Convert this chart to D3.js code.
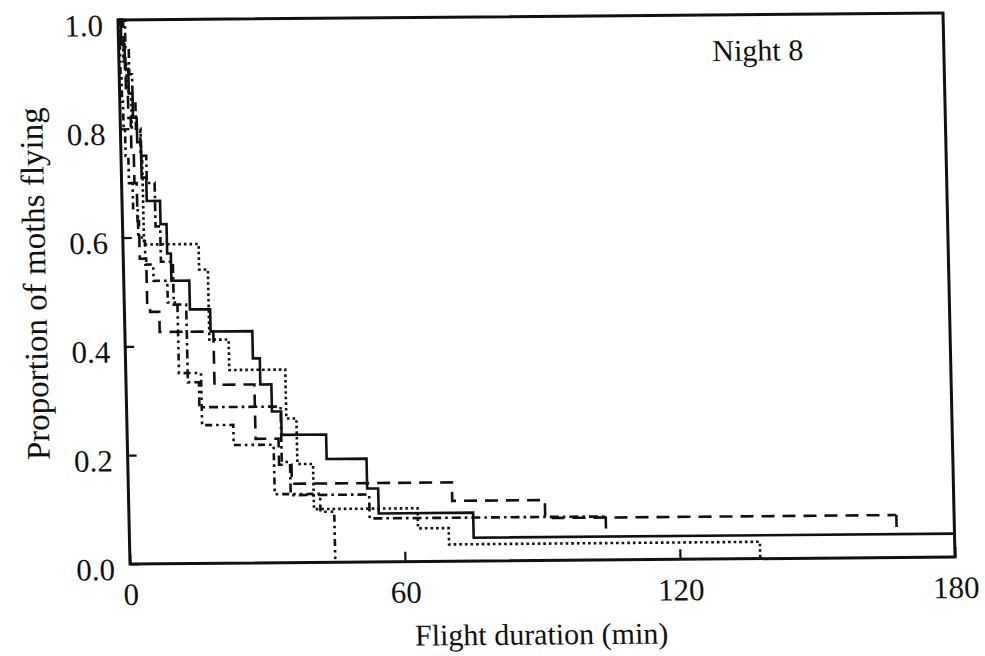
<!DOCTYPE html>
<html>
<head>
<meta charset="utf-8">
<script src="https://cdn.jsdelivr.net/npm/d3@7"></script>
<style>
  html, body { margin: 0; padding: 0; background: #fff; }
  svg { display: block; }
  text { font-family: "Liberation Serif", "Times New Roman", serif; fill: #111; }
</style>
</head>
<body>
<svg id="chart" width="985" height="656"></svg>
<script>
// Axis ticks
const xTicks = [0, 60, 120, 180];
const yTicks = [0, 0.2, 0.4, 0.6, 0.8, 1.0];

// Kaplan-Meier style flight curves: event times (min) and proportion still flying
const solidTimes = [0, 0.6, 1.3, 2.0, 2.8, 3.6, 4.4, 5.4, 8.3, 9.6, 10.4, 14.3, 18.7, 27.8, 29.3, 31.7, 33.7, 43.4, 52.1, 54.5, 75.1, 180];
const solidProps = [1, 0.955, 0.91, 0.865, 0.82, 0.775, 0.71, 0.667, 0.624, 0.57, 0.52, 0.467, 0.426, 0.376, 0.328, 0.278, 0.235, 0.19, 0.135, 0.089, 0.043, 0.043];

const dashTimes = [0, 1.1, 1.4, 1.8, 2.3, 2.8, 3.3, 3.6, 5.0, 5.6, 7.6, 19.3, 28.0, 33.0, 35.7, 70.6, 90.8, 167.4];
const dashProps = [1, 0.93, 0.87, 0.82, 0.76, 0.70, 0.63, 0.561, 0.48, 0.463, 0.426, 0.328, 0.228, 0.18, 0.145, 0.111, 0.078, 0.078];

const dotTimes = [0, 0.5, 1.0, 1.6, 2.5, 4.4, 4.6, 16.5, 18.4, 22.6, 34.8, 37.0, 40.4, 63.0, 69.7, 137.5];
const dotProps = [1, 0.96, 0.92, 0.87, 0.80, 0.74, 0.587, 0.54, 0.411, 0.355, 0.265, 0.181, 0.098, 0.061, 0.031, 0];

const dashDotTimes = [0, 1.5, 2.2, 2.8, 3.4, 4.3, 5.5, 7.2, 8.2, 10.8, 13.5, 15.9, 33.6, 35.4, 52.5, 104];
const dashDotProps = [1, 0.95, 0.9, 0.85, 0.80, 0.75, 0.70, 0.62, 0.555, 0.476, 0.333, 0.287, 0.185, 0.124, 0.08, 0.08];

const dashDot2Times = [0, 0.15, 0.3, 0.5, 0.7, 1.0, 1.6, 2.4, 3.4, 4.8, 6.5, 9.5, 11.6, 16.4, 23.2, 31.9, 41.8, 44.8];
const dashDot2Props = [1, 0.95, 0.9, 0.85, 0.8, 0.75, 0.70, 0.65, 0.60, 0.55, 0.52, 0.48, 0.35, 0.254, 0.217, 0.126, 0.093, 0];

const series = [
  { times: solidTimes,    props: solidProps,    dash: null,               censored: false },
  { times: dashTimes,     props: dashProps,     dash: "13,8",             censored: true  },
  { times: dotTimes,      props: dotProps,      dash: "2.6,3",            censored: false },
  { times: dashDotTimes,  props: dashDotProps,  dash: "9,4,2.6,4",        censored: true  },
  { times: dashDot2Times, props: dashDot2Props, dash: "7,4,2.6,4,2.6,4",  censored: false }
];

const svg = d3.select("#chart");

// The printed figure sits slightly askew on the page: a small shear/rotation of the whole plot.
const root = svg.append("g")
  .attr("transform", "matrix(1,-0.00848,0.02206,1,-0.44,1.0)");

const x = d3.scaleLinear().domain([0, 180]).range([118, 943]);
const y = d3.scaleLinear().domain([0, 1]).range([564, 20]);

const ink = "#111";

// Survival steps
const line = d3.line()
  .x(d => x(d[0]))
  .y(d => y(d[1]))
  .curve(d3.curveStepAfter);

const curves = root.append("g").attr("fill", "none").attr("stroke", ink)
  .attr("stroke-width", 2.6).attr("stroke-linejoin", "miter");

series.forEach(s => {
  const pts = s.times.map((t, i) => [t, s.props[i]]);
  curves.append("path")
    .attr("d", line(pts))
    .attr("stroke-dasharray", s.dash);
  if (s.censored) {
    const tEnd = s.times[s.times.length - 1];
    const pEnd = s.props[s.props.length - 1];
    curves.append("line")
      .attr("x1", x(tEnd)).attr("x2", x(tEnd))
      .attr("y1", y(pEnd)).attr("y2", y(pEnd) + 12);
  }
});

// Frame
root.append("rect")
  .attr("x", x(0)).attr("y", y(1))
  .attr("width", x(180) - x(0)).attr("height", y(0) - y(1))
  .attr("fill", "none").attr("stroke", ink).attr("stroke-width", 3);

// Axes with inward ticks
const yAxis = d3.axisLeft(y).tickValues(yTicks).tickFormat(d3.format(".1f"))
  .tickSizeInner(-9).tickSizeOuter(0).tickPadding(15);
const gy = root.append("g").attr("transform", `translate(${x(0)},0)`).call(yAxis);
gy.select(".domain").remove();
gy.selectAll(".tick line").attr("stroke", ink).attr("stroke-width", 2.2);
gy.selectAll(".tick text").attr("font-size", 31).attr("dy", "0.5em")
  .style("font-family", "'Liberation Serif', serif").attr("fill", ink);

const xAxis = d3.axisBottom(x).tickValues(xTicks).tickFormat(d3.format("d"))
  .tickSizeInner(-10).tickSizeOuter(0).tickPadding(19);
const gx = root.append("g").attr("transform", `translate(0,${y(0)})`).call(xAxis);
gx.select(".domain").remove();
gx.selectAll(".tick line").attr("stroke", ink).attr("stroke-width", 2.2);
gx.selectAll(".tick text").attr("font-size", 31)
  .style("font-family", "'Liberation Serif', serif").attr("fill", ink);

// Titles
root.append("text")
  .attr("x", 757).attr("y", 66)
  .attr("text-anchor", "middle").attr("font-size", 30)
  .text("Night 8");

root.append("text")
  .attr("x", 528).attr("y", 648)
  .attr("text-anchor", "middle").attr("font-size", 30)
  .text("Flight duration (min)");

root.append("text")
  .attr("transform", "translate(40,283) rotate(-90)")
  .attr("text-anchor", "middle").attr("font-size", 33)
  .text("Proportion of moths flying");
</script>
</body>
</html>
